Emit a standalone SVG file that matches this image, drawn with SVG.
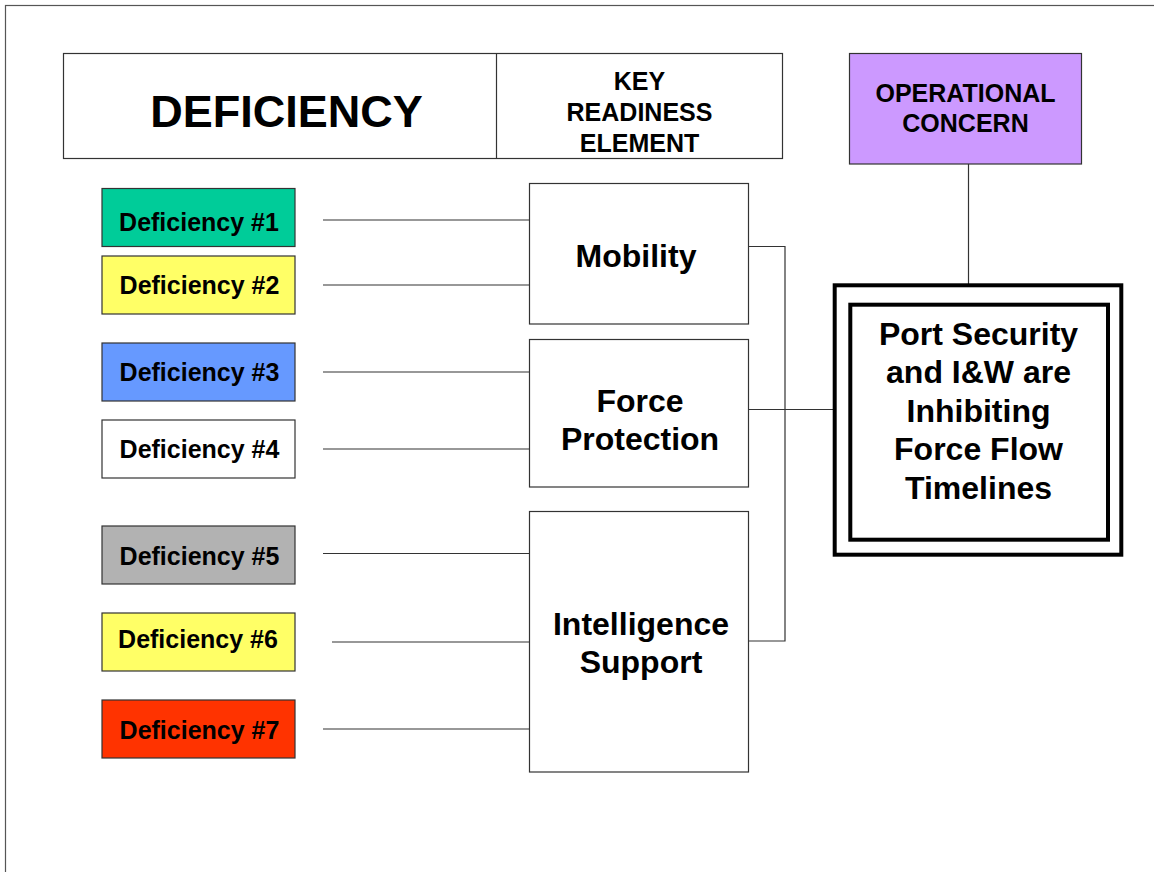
<svg xmlns="http://www.w3.org/2000/svg" width="1154" height="872" viewBox="0 0 1154 872">
<style>
text{font-family:"Liberation Sans",Arial,sans-serif;font-weight:bold;fill:#000;text-anchor:middle}
.box{stroke:#333;stroke-width:1.2}
.conn{stroke:#333;stroke-width:1.2;fill:none}
.d{font-size:25px}
.k{font-size:32px}
.h{font-size:25px}
</style>
<rect x="5.5" y="5.5" width="1200" height="900" fill="none" stroke="#555" stroke-width="1.2"/>
<g id="connectors">
<line class="conn" x1="323" y1="220" x2="529" y2="220"/>
<line class="conn" x1="323" y1="285" x2="529" y2="285"/>
<line class="conn" x1="323" y1="372" x2="529" y2="372"/>
<line class="conn" x1="323" y1="449" x2="529" y2="449"/>
<line class="conn" x1="323" y1="553.5" x2="529" y2="553.5"/>
<line class="conn" x1="332" y1="642" x2="529" y2="642"/>
<line class="conn" x1="323" y1="729" x2="529" y2="729"/>
<polyline class="conn" points="748.5,246.5 785,246.5 785,641 748.5,641"/>
<line class="conn" x1="748.5" y1="409.5" x2="833" y2="409.5"/>
<line class="conn" x1="968.5" y1="164" x2="968.5" y2="284"/>
</g>
<g id="header">
<rect class="box" x="63.5" y="53.5" width="719" height="105" fill="#fff"/>
<line class="box" x1="496.5" y1="53.5" x2="496.5" y2="158.5"/>
<text x="286.5" y="126.5" font-size="45">DEFICIENCY</text>
<text class="h" x="639.5" y="90">KEY</text>
<text class="h" x="639.5" y="121">READINESS</text>
<text class="h" x="639.5" y="151.5">ELEMENT</text>
</g>
<g id="operational-concern">
<rect class="box" x="849.5" y="53.5" width="232" height="110.5" fill="#CC99FF"/>
<text class="h" x="965.5" y="102" font-size="25.5">OPERATIONAL</text>
<text class="h" x="965.5" y="132" font-size="25.5">CONCERN</text>
</g>
<g id="def1"><rect class="box" x="102" y="188.5" width="193" height="58" fill="#00CC99"/><text class="d" x="199" y="231">Deficiency #1</text></g>
<g id="def2"><rect class="box" x="102" y="256" width="193" height="58" fill="#FFFF66"/><text class="d" x="199.5" y="294">Deficiency #2</text></g>
<g id="def3"><rect class="box" x="102" y="343" width="193" height="58" fill="#6699FF"/><text class="d" x="199.5" y="381">Deficiency #3</text></g>
<g id="def4"><rect class="box" x="102" y="420" width="193" height="58" fill="#fff"/><text class="d" x="199.5" y="458">Deficiency #4</text></g>
<g id="def5"><rect class="box" x="102" y="526" width="193" height="58" fill="#B2B2B2"/><text class="d" x="199.5" y="565">Deficiency #5</text></g>
<g id="def6"><rect class="box" x="102" y="613" width="193" height="58" fill="#FFFF66"/><text class="d" x="198" y="648">Deficiency #6</text></g>
<g id="def7"><rect class="box" x="102" y="700" width="193" height="58" fill="#FF3300"/><text class="d" x="199.5" y="738.5">Deficiency #7</text></g>
<g id="mobility"><rect class="box" x="529.5" y="183.5" width="219" height="140.5" fill="#fff"/><text class="k" x="636" y="267">Mobility</text></g>
<g id="force-protection"><rect class="box" x="529.5" y="339.5" width="219" height="147.5" fill="#fff"/><text class="k" x="640" y="412">Force</text><text class="k" x="640" y="449.5">Protection</text></g>
<g id="intelligence-support"><rect class="box" x="529.5" y="511.5" width="219" height="260.5" fill="#fff"/><text class="k" x="641" y="635">Intelligence</text><text class="k" x="641" y="672.5">Support</text></g>
<g id="port-security">
<rect x="834.7" y="285.3" width="286.6" height="269.4" fill="#fff" stroke="#000" stroke-width="4"/>
<rect x="850.3" y="304.7" width="257.7" height="235" fill="#fff" stroke="#000" stroke-width="4"/>
<text class="k" x="978.5" y="344.5">Port Security</text>
<text class="k" x="978.5" y="383">and I&amp;W are</text>
<text class="k" x="978.5" y="421.5">Inhibiting</text>
<text class="k" x="978.5" y="460">Force Flow</text>
<text class="k" x="978.5" y="498.5">Timelines</text>
</g>
</svg>
